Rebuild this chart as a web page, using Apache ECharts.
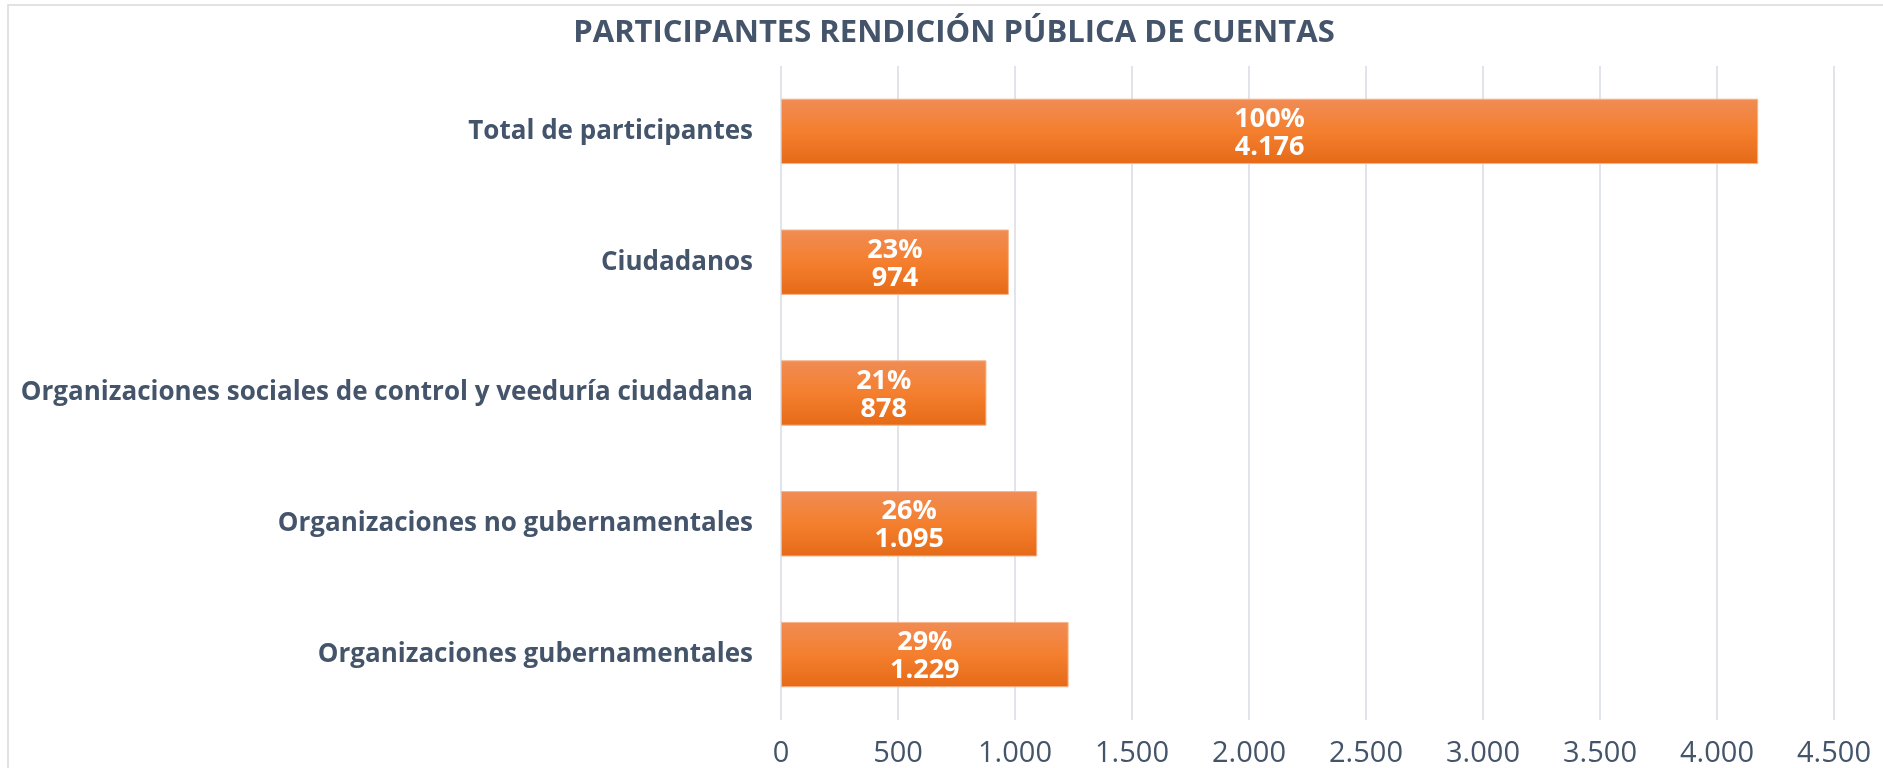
<!DOCTYPE html>
<html>
<head>
<meta charset="utf-8">
<title>Participantes rendición pública de cuentas</title>
<script src="https://cdn.jsdelivr.net/npm/echarts@6.0.0/dist/echarts.min.js"></script>
<style>
  html, body { margin: 0; padding: 0; background: #fff; }
  #chart { width: 1883px; height: 768px; }
</style>
</head>
<body>
<div id="chart"></div>
<script>
// categorías de abajo hacia arriba
var categories = [
  'Organizaciones gubernamentales',
  'Organizaciones no gubernamentales',
  'Organizaciones sociales de control y veeduría ciudadana',
  'Ciudadanos',
  'Total de participantes'
];
var participantes = [1229, 1095, 878, 974, 4176];
var porcentajes = ['29%', '26%', '21%', '23%', '100%'];
var xTicks = [0, 500, 1000, 1500, 2000, 2500, 3000, 3500, 4000, 4500];

var textColor = '#44546A';

// formato con punto de miles
function miles(v) {
  return String(v).replace(/\B(?=(\d{3})+(?!\d))/g, '.');
}

var chart = echarts.init(document.getElementById('chart'));
chart.setOption({
  backgroundColor: '#fff',
  animation: false,
  title: {
    text: 'PARTICIPANTES RENDICIÓN PÚBLICA DE CUENTAS',
    left: 949,
    textAlign: 'center',
    top: 13,
    textStyle: {
      fontFamily: 'Open Sans',
      fontWeight: 'bold',
      fontSize: 31,
      color: textColor
    }
  },
  graphic: [{
    type: 'rect',
    shape: { x: 8, y: 5, width: 1900, height: 800 },
    style: { fill: 'none', stroke: '#D9D9D9', lineWidth: 1.5 },
    silent: true,
    z: -1
  }],
  grid: { left: 781, right: 49, top: 66, bottom: 48 },
  xAxis: {
    type: 'value',
    min: xTicks[0],
    max: xTicks[xTicks.length - 1],
    interval: 500,
    axisLine: { show: false },
    axisTick: { show: false },
    splitLine: { show: true, lineStyle: { color: '#E1E4EA', width: 2 } },
    axisLabel: {
      margin: 19,
      fontFamily: 'Open Sans',
      fontSize: 29,
      color: textColor,
      formatter: function (v) { return miles(v); }
    }
  },
  yAxis: {
    type: 'category',
    data: categories,
    axisLine: { show: false },
    axisTick: { show: false },
    axisLabel: {
      margin: 28,
      fontFamily: 'Open Sans',
      fontWeight: 'bold',
      fontSize: 26,
      color: textColor
    }
  },
  series: [{
    type: 'bar',
    data: participantes,
    barWidth: '50%',
    itemStyle: {
      color: new echarts.graphic.LinearGradient(0, 0, 0, 1, [
        { offset: 0, color: '#F08C55' },
        { offset: 0.5, color: '#F47F2E' },
        { offset: 1, color: '#E56A17' }
      ]),
      borderColor: '#F6B48A',
      borderWidth: 1
    },
    label: {
      show: true,
      position: 'inside',
      offset: [0, 2],
      color: '#fff',
      fontFamily: 'Open Sans',
      fontWeight: 'bold',
      fontSize: 27,
      lineHeight: 28,
      formatter: function (p) {
        return porcentajes[p.dataIndex] + '\n' + miles(p.value);
      }
    }
  }]
});
</script>
</body>
</html>
